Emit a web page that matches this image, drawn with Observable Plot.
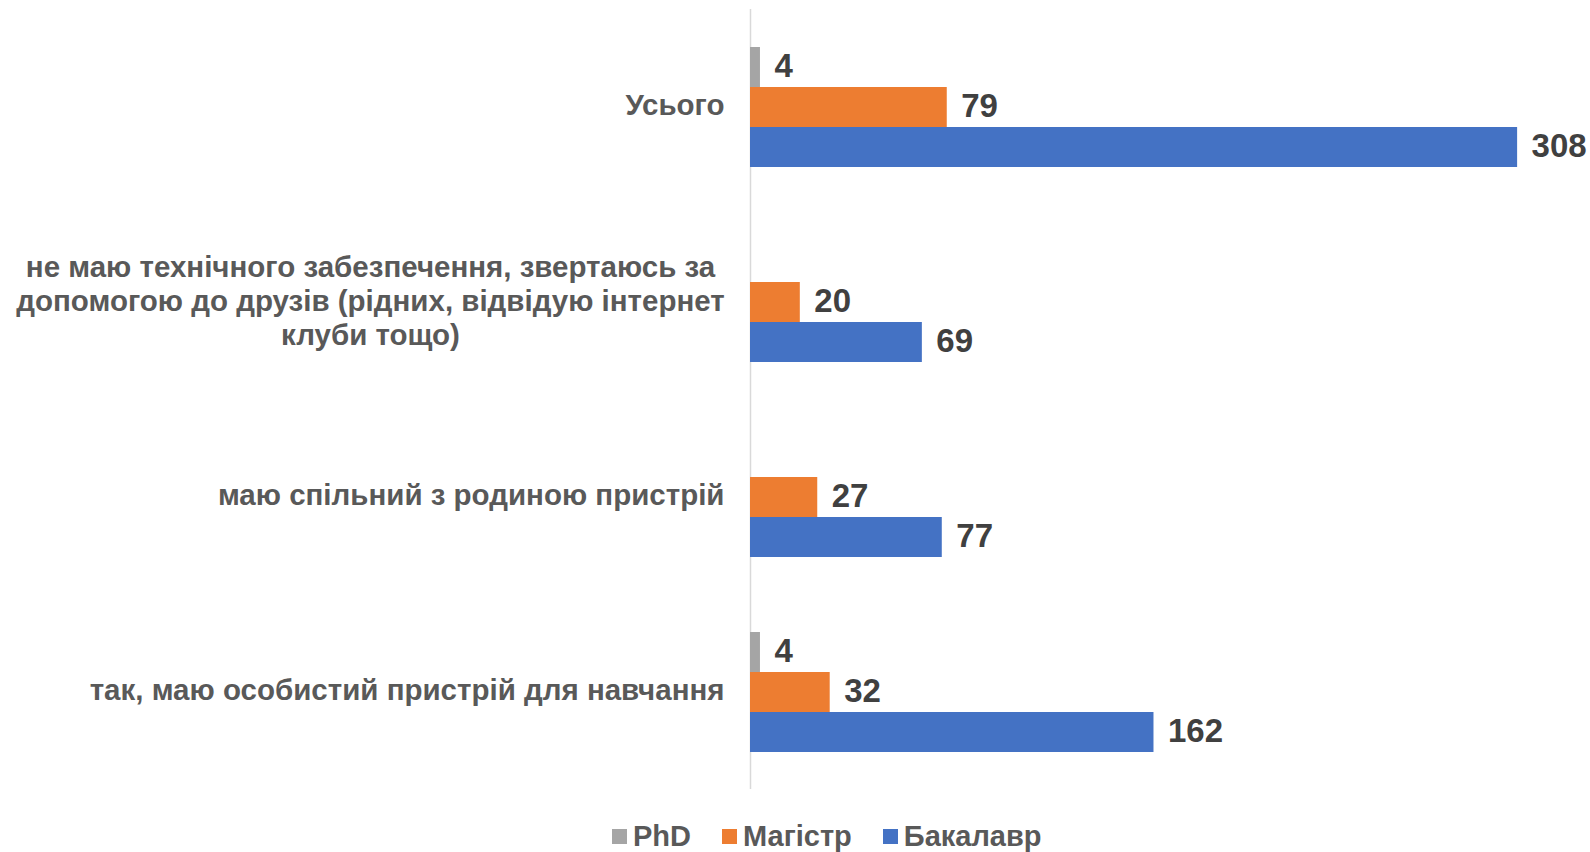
<!DOCTYPE html>
<html>
<head>
<meta charset="utf-8">
<script src="https://cdn.jsdelivr.net/npm/d3@7"></script>
<script src="https://cdn.jsdelivr.net/npm/@observablehq/plot@0.6"></script>
<style>
  html, body { margin: 0; padding: 0; background: #fff; }
  body { width: 1590px; height: 852px; position: relative; overflow: hidden; font-family: "Liberation Sans", Arial, sans-serif; }
  #legend { position: absolute; left: 612px; top: 819px; display: flex; align-items: center; gap: 31px; font-size: 29px; line-height: 34px; font-weight: bold; color: #595959; }
  #legend .item { display: flex; align-items: center; gap: 6px; }
  #legend .sw { width: 15px; height: 15px; display: inline-block; }
</style>
</head>
<body>
<div id="chart"></div>
<div id="legend"></div>
<script>
const categories = [
  "Усього",
  "не маю технічного забезпечення, звертаюсь за\nдопомогою до друзів (рідних, відвідую інтернет\nклуби тощо)",
  "маю спільний з родиною пристрій",
  "так, маю особистий пристрій для навчання"
];
const series = ["PhD", "Магістр", "Бакалавр"];
const phdValues = [4, 0, 0, 4];
const magistrValues = [79, 20, 27, 32];
const bakalavrValues = [308, 69, 77, 162];
const colors = ["#A5A5A5", "#ED7D31", "#4472C4"];

const valuesBySeries = [phdValues, magistrValues, bakalavrValues];
const rows = [];
categories.forEach((cat, i) => {
  series.forEach((s, j) => rows.push({cat, series: s, value: valuesBySeries[j][i]}));
});
const shown = rows.filter(d => d.value > 0);

const chart = Plot.plot({
  width: 1590,
  height: 800,
  marginLeft: 750,
  marginRight: 43,
  marginTop: 8,
  marginBottom: 11,
  style: {fontFamily: "'Liberation Sans', Arial, sans-serif", background: "#fff"},
  x: {domain: [0, 320], axis: null},
  y: {domain: series, paddingInner: 0, paddingOuter: 0.9375, axis: null},
  fy: {domain: categories, padding: 0, axis: null},
  color: {domain: series, range: colors},
  marks: [
    Plot.ruleX([0], {stroke: "#D9D9D9", strokeWidth: 1.5}),
    Plot.barX(shown, {x: "value", y: "series", fy: "cat", fill: "series"}),
    Plot.text(shown, {
      x: "value", y: "series", fy: "cat", text: d => String(d.value),
      textAnchor: "start", dx: 14, dy: -1, fontSize: 33, fontWeight: "bold", fill: "#404040"
    }),
    Plot.text(categories.filter(c => !c.includes("\n")), {
      fy: d => d, text: d => d, frameAnchor: "left", textAnchor: "end", dx: -26, dy: -1,
      fontSize: 29.5, fontWeight: "bold", fill: "#595959"
    }),
    Plot.text(categories.filter(c => c.includes("\n")), {
      fy: d => d, text: d => d, frameAnchor: "left", textAnchor: "middle", dx: -380, dy: -2,
      fontSize: 29.5, fontWeight: "bold", fill: "#595959", lineHeight: 34 / 29.5
    })
  ]
});
document.getElementById("chart").appendChild(chart);

const legend = document.getElementById("legend");
series.forEach((s, i) => {
  const item = document.createElement("div");
  item.className = "item";
  const sw = document.createElement("span");
  sw.className = "sw";
  sw.style.background = colors[i];
  const t = document.createElement("span");
  t.textContent = s;
  item.appendChild(sw);
  item.appendChild(t);
  legend.appendChild(item);
});
</script>
</body>
</html>
